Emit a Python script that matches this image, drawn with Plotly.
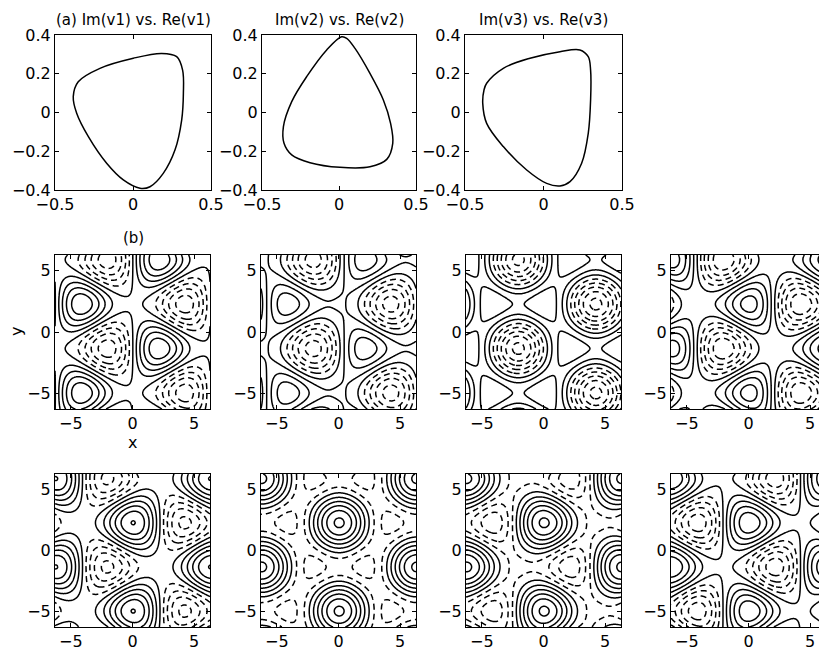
import numpy as np
import plotly.graph_objects as go

W, H = 819, 656

# ---- (a) closed orbits of the three complex mode amplitudes: (Re, Im) ----
v1_re = [-0.351, -0.212, 0.002, 0.184, 0.280, 0.318, 0.323, 0.312, 0.269, 0.194,
         0.109, 0.045, -0.062, -0.169, -0.286, -0.361, -0.383]
v1_im = [0.159, 0.228, 0.280, 0.305, 0.288, 0.219, 0.099, -0.039, -0.194, -0.314,
         -0.383, -0.391, -0.348, -0.262, -0.125, -0.004, 0.082]

v2_re = [0.017, -0.080, -0.210, -0.307, -0.361, -0.357, -0.307, -0.188, 0.006, 0.201,
         0.310, 0.349, 0.335, 0.288, 0.201, 0.104, 0.050]
v2_im = [0.391, 0.323, 0.185, 0.056, -0.073, -0.159, -0.219, -0.259, -0.283, -0.280,
         -0.242, -0.159, -0.056, 0.065, 0.202, 0.331, 0.383]

v3_re = [-0.362, -0.256, -0.086, 0.105, 0.232, 0.285, 0.300, 0.300, 0.285, 0.243,
         0.169, 0.105, 0.020, -0.107, -0.256, -0.362, -0.387, -0.379]
v3_im = [0.151, 0.228, 0.280, 0.314, 0.323, 0.288, 0.219, 0.065, -0.108, -0.262,
         -0.357, -0.379, -0.366, -0.297, -0.176, -0.056, 0.047, 0.116]

orbit_titles = ["(a) Im(v1) vs. Re(v1)", "Im(v2) vs. Re(v2)", "Im(v3) vs. Re(v3)"]

# ---- (b) pattern snapshots: u = A sum_j cos(k_j.(r - r0) + Phi/3) + u0 ----
# total triad phase Phi (units of pi) and pattern amplitude A at the eight snapshots
phase_sum = [0.5, 0.7, 1.0, 1.4, 1.6, 2.0, 2.25, 2.5]
pattern_amp = [0.9, 0.8, 0.9, 0.9, 0.9, 0.85, 0.88, 0.9]
mean_level = 0.3
cell_center = [2.15, -1.35]
pos_levels = [0.25, 0.75, 1.25, 1.75, 2.25, 2.75]
neg_levels = [-0.25, -0.75, -1.25, -1.75, -2.25, -2.75]

orbit_ticks_x = [-0.5, 0, 0.5]
orbit_ticks_y = [-0.4, -0.2, 0, 0.2, 0.4]
pattern_ticks = [-5, 0, 5]

# ---- layout geometry (pixels) ----
orbit_px = [(55, 211), (262, 416), (465, 622)]
orbit_py = (35, 190)
pat_px = [(55, 210), (261, 416), (466, 621), (671, 819)]
pat_py = [(255, 409), (474, 627)]


def fx(p):
    return p / W


def fy(p):
    return 1 - p / H


TITLE_FONT = dict(family="DejaVu Sans", size=15, color="black")
TICK_FONT = dict(family="DejaVu Sans", size=16, color="black")

fig = go.Figure()
layout = dict(width=W, height=H,
              margin=dict(l=0, r=0, t=0, b=0, pad=0, autoexpand=False),
              paper_bgcolor="white", plot_bgcolor="white", showlegend=False,
              font=TITLE_FONT)

axis_common = dict(showgrid=False, zeroline=False, showline=True, linecolor="black",
                   linewidth=1, ticks="inside", ticklen=4, tickcolor="black",
                   tickfont=TICK_FONT, automargin=False)

annotations = []
idx = 0

# orbit panels
for i, (re, im) in enumerate([(v1_re, v1_im), (v2_re, v2_im), (v3_re, v3_im)]):
    idx += 1
    xa = "x" if idx == 1 else f"x{idx}"
    ya = "y" if idx == 1 else f"y{idx}"
    fig.add_trace(go.Scatter(x=re + [re[0]], y=im + [im[0]], mode="lines",
                             line=dict(color="black", width=1.5, shape="spline", smoothing=1.0),
                             xaxis=xa, yaxis=ya, hoverinfo="skip"))
    x0, x1 = orbit_px[i]
    layout[f"xaxis{idx}"] = dict(axis_common, domain=[fx(x0), fx(x1)], range=[-0.5, 0.5],
                                 tickvals=orbit_ticks_x, mirror="allticks", anchor=ya)
    layout[f"yaxis{idx}"] = dict(axis_common, domain=[fy(orbit_py[1]), fy(orbit_py[0])],
                                 range=[-0.4, 0.4], tickvals=orbit_ticks_y,
                                 mirror="allticks", anchor=xa)
    annotations.append(dict(text=orbit_titles[i], x=fx((x0 + x1) / 2), y=fy(20),
                            xref="paper", yref="paper", showarrow=False,
                            xanchor="center", yanchor="middle", font=TITLE_FONT))

# pattern panels
L = 2 * np.pi
xs = np.linspace(-L, L, 241)
ys = np.linspace(-L, L, 241)
X, Y = np.meshgrid(xs, ys)
kvecs = [(1.0, 0.0), (-0.5, np.sqrt(3) / 2), (-0.5, -np.sqrt(3) / 2)]
scale = (pat_px[0][1] - pat_px[0][0]) / (2 * L)
lstep = pos_levels[1] - pos_levels[0]

for n, (phi, amp) in enumerate(zip(phase_sum, pattern_amp)):
    row, col = divmod(n, 4)
    idx += 1
    xa, ya = f"x{idx}", f"y{idx}"
    U = np.full_like(X, mean_level)
    for kx, ky in kvecs:
        U += amp * np.cos(kx * (X - cell_center[0]) + ky * (Y - cell_center[1]) + phi * np.pi / 3)
    fig.add_trace(go.Contour(x=xs, y=ys, z=U,
                             contours=dict(start=pos_levels[0], end=pos_levels[-1], size=lstep,
                                           coloring="none"),
                             line=dict(color="black", width=1.5), showscale=False,
                             xaxis=xa, yaxis=ya, hoverinfo="skip"))
    fig.add_trace(go.Contour(x=xs, y=ys, z=U,
                             contours=dict(start=neg_levels[-1], end=neg_levels[0], size=lstep,
                                           coloring="none"),
                             line=dict(color="black", width=1.5, dash="6px,4px"), showscale=False,
                             xaxis=xa, yaxis=ya, hoverinfo="skip"))
    x0, x1 = pat_px[col]
    y0, y1 = pat_py[row]
    xmax = -L + (x1 - x0) / scale
    last = col == 3
    layout[f"xaxis{idx}"] = dict(axis_common, domain=[fx(x0), fx(x1)], range=[-L, min(L, xmax)],
                                 tickvals=pattern_ticks, mirror="allticks", anchor=ya)
    layout[f"yaxis{idx}"] = dict(axis_common, domain=[fy(y1), fy(y0)], range=[-L, L],
                                 tickvals=pattern_ticks, mirror=False if last else "allticks",
                                 anchor=xa)

annotations += [
    dict(text="(b)", x=fx(133), y=fy(238), xref="paper", yref="paper", showarrow=False,
         xanchor="center", yanchor="middle", font=TITLE_FONT),
    dict(text="x", x=fx(132), y=fy(442), xref="paper", yref="paper", showarrow=False,
         xanchor="center", yanchor="middle", font=TICK_FONT),
    dict(text="y", x=fx(16), y=fy(332), xref="paper", yref="paper", showarrow=False,
         xanchor="center", yanchor="middle", textangle=-90, font=TICK_FONT),
]
layout["annotations"] = annotations
fig.update_layout(**layout)
fig.write_html("out.html")
